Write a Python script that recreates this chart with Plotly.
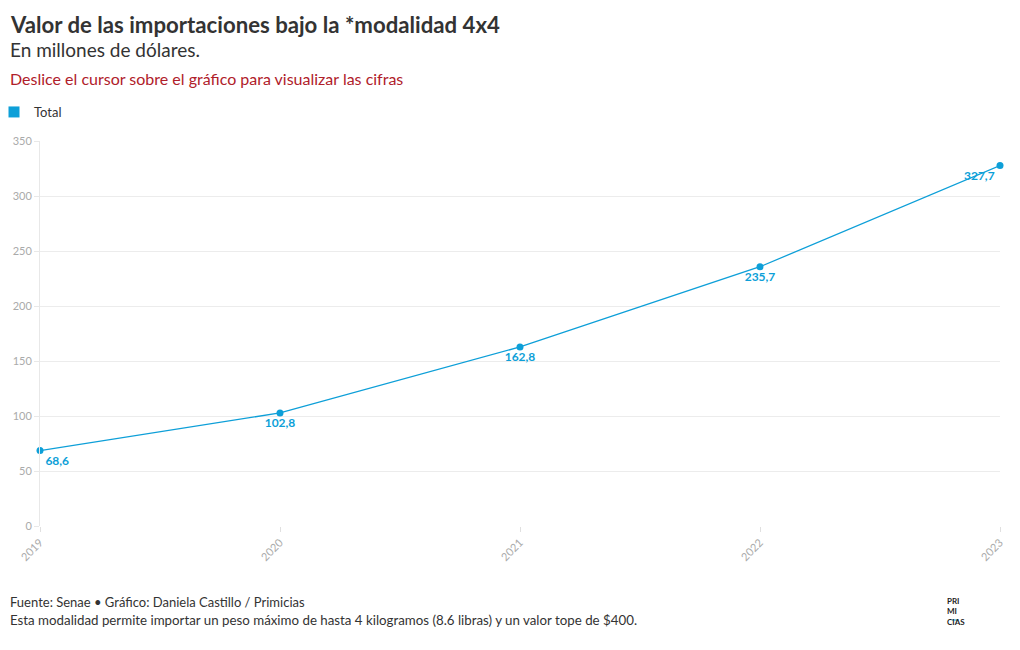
import plotly.graph_objects as go

years = ["2019", "2020", "2021", "2022", "2023"]
totals = [68.6, 102.8, 162.8, 235.7, 327.7]
labels = ["68,6", "102,8", "162,8", "235,7", "327,7"]
label_positions = ["bottom right", "bottom center", "bottom center", "bottom center", "bottom left"]
y_ticks = [0, 50, 100, 150, 200, 250, 300, 350]

BLUE = "#0d9fd8"
FONT = "Lato"

# layout constants (pixels)
W, H = 1020, 650
L, R, T, B = 40, 20, 141, 124
PW, PH = W - L - R, H - T - B


def px(x):
    return (x - L) / PW


def py(y):
    return (H - B - y) / PH


fig = go.Figure()
fig.add_trace(go.Scatter(
    x=years, y=totals, name="Total",
    mode="lines+markers+text",
    line=dict(color=BLUE, width=1.3),
    marker=dict(color=BLUE, size=7),
    text=labels, textposition=label_positions,
    textfont=dict(family=FONT, size=12, color=BLUE, weight="bold"),
    hovertemplate="%{x}: %{text}<extra></extra>",
    cliponaxis=False, showlegend=False,
))
# legend entry (square swatch)
fig.add_trace(go.Scatter(
    x=[None], y=[None], name="Total", mode="markers",
    marker=dict(color=BLUE, size=11, symbol="square"),
    showlegend=True, hoverinfo="skip",
))

annotations = [
    dict(text="<b>Valor de las importaciones bajo la *modalidad 4x4</b>", x=px(8), y=py(9),
         font=dict(size=22.2, color="#333333", family=FONT)),
    dict(text="En millones de dólares.", x=px(8), y=py(36),
         font=dict(size=19, color="#333333", family=FONT)),
    dict(text="Deslice el cursor sobre el gráfico para visualizar las cifras", x=px(8), y=py(67),
         font=dict(size=16, color="#b0202a", family=FONT)),
    dict(text="Fuente: Senae • Gráfico: Daniela Castillo / Primicias", x=px(8), y=py(592),
         font=dict(size=13, color="#333333", family=FONT)),
    dict(text="Esta modalidad permite importar un peso máximo de hasta 4 kilogramos (8.6 libras) y un valor tope de $400.",
         x=px(8), y=py(610), font=dict(size=13.3, color="#333333", family=FONT)),
    dict(text="<b>PRI<br>MI<br>CIAS</b>", x=px(945), y=py(594),
         font=dict(size=8, color="#222222", family=FONT), align="left"),
]
for a in annotations:
    a.update(xref="paper", yref="paper", xanchor="left", yanchor="top", showarrow=False)

fig.update_layout(
    width=W, height=H,
    margin=dict(l=L, r=R, t=T, b=B, autoexpand=False),
    paper_bgcolor="white", plot_bgcolor="white",
    font=dict(family=FONT),
    showlegend=True,
    legend=dict(orientation="h", x=px(-6), y=py(97), xanchor="left", yanchor="top",
                font=dict(size=13, color="#333333", family=FONT),
                itemwidth=30, tracegroupgap=0, bgcolor="rgba(0,0,0,0)"),
    annotations=annotations,
    xaxis=dict(
        type="category", range=[0, 4], showgrid=False, zeroline=False, automargin=False,
        ticks="outside", ticklen=5, tickcolor="#e0e0e0", tickangle=-45,
        tickfont=dict(size=11, color="#aaaaaa", family=FONT),
        showline=False,
    ),
    yaxis=dict(
        range=[0, 350], tickvals=y_ticks, showgrid=True, gridcolor="#ececec", gridwidth=1,
        zeroline=False, ticks="outside", ticklen=5, tickcolor="#e8e8e8", automargin=False,
        tickfont=dict(size=11, color="#aaaaaa", family=FONT),
        showline=True, linecolor="#e8e8e8", linewidth=1,
    ),
    hovermode="closest",
)
fig.add_shape(type="line", xref="paper", yref="paper", x0=px(952), x1=px(959), y0=py(620), y1=py(620),
              line=dict(color=BLUE, width=1))

fig.write_html("out.html", config={"displayModeBar": False},
               post_script="document.body.style.margin='0';document.body.style.overflow='hidden';")
